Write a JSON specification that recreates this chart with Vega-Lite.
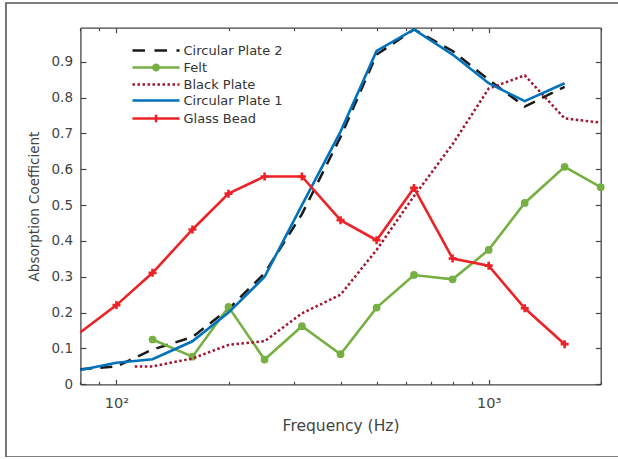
{
  "$schema": "https://vega.github.io/schema/vega-lite/v6.json",
  "width": 614,
  "height": 454,
  "autosize": {"type": "none"},
  "padding": {"left": 6, "top": 3, "right": 0, "bottom": 0},
  "background": "white",
  "config": {
    "view": {"stroke": "#555555", "strokeWidth": 1.6},
    "font": "DejaVu Sans",
    "axis": {
      "grid": false,
      "domainColor": "#454545",
      "domainWidth": 1.3,
      "tickColor": "#454545",
      "tickWidth": 1.2,
      "labelColor": "#444444",
      "titleColor": "#444444",
      "labelFont": "DejaVu Sans",
      "titleFont": "DejaVu Sans",
      "titleFontWeight": "normal",
      "labelFlush": false,
      "labelOverlap": false,
      "labelBound": false
    },
    "legend": {
      "orient": "none",
      "legendX": 142.5,
      "legendY": 40,
      "title": null,
      "padding": 0,
      "labelFont": "DejaVu Sans",
      "labelFontSize": 13,
      "labelColor": "#333333",
      "labelOffset": 20,
      "rowPadding": 1,
      "symbolSize": 144,
      "symbolStrokeWidth": 2.5
    }
  },
  "data": {
    "values": [
      {"s": "Circular Plate 2", "f": 80, "a": 0.042},
      {"s": "Circular Plate 2", "f": 100, "a": 0.05},
      {"s": "Circular Plate 2", "f": 125, "a": 0.097},
      {"s": "Circular Plate 2", "f": 160, "a": 0.132},
      {"s": "Circular Plate 2", "f": 200, "a": 0.21},
      {"s": "Circular Plate 2", "f": 250, "a": 0.31},
      {"s": "Circular Plate 2", "f": 315, "a": 0.475},
      {"s": "Circular Plate 2", "f": 400, "a": 0.69},
      {"s": "Circular Plate 2", "f": 500, "a": 0.92},
      {"s": "Circular Plate 2", "f": 630, "a": 0.99},
      {"s": "Circular Plate 2", "f": 800, "a": 0.93},
      {"s": "Circular Plate 2", "f": 1000, "a": 0.85},
      {"s": "Circular Plate 2", "f": 1250, "a": 0.775},
      {"s": "Circular Plate 2", "f": 1600, "a": 0.83},

      {"s": "Felt", "f": 125, "a": 0.125},
      {"s": "Felt", "f": 160, "a": 0.077},
      {"s": "Felt", "f": 200, "a": 0.216},
      {"s": "Felt", "f": 250, "a": 0.069},
      {"s": "Felt", "f": 315, "a": 0.162},
      {"s": "Felt", "f": 400, "a": 0.084},
      {"s": "Felt", "f": 500, "a": 0.214},
      {"s": "Felt", "f": 630, "a": 0.305},
      {"s": "Felt", "f": 800, "a": 0.293},
      {"s": "Felt", "f": 1000, "a": 0.375},
      {"s": "Felt", "f": 1250, "a": 0.506},
      {"s": "Felt", "f": 1600, "a": 0.607},
      {"s": "Felt", "f": 2000, "a": 0.55},

      {"s": "Black Plate", "f": 112, "a": 0.05},
      {"s": "Black Plate", "f": 125, "a": 0.05},
      {"s": "Black Plate", "f": 160, "a": 0.072},
      {"s": "Black Plate", "f": 200, "a": 0.11},
      {"s": "Black Plate", "f": 250, "a": 0.12},
      {"s": "Black Plate", "f": 315, "a": 0.198},
      {"s": "Black Plate", "f": 400, "a": 0.25},
      {"s": "Black Plate", "f": 500, "a": 0.375},
      {"s": "Black Plate", "f": 630, "a": 0.525},
      {"s": "Black Plate", "f": 800, "a": 0.67},
      {"s": "Black Plate", "f": 1000, "a": 0.825},
      {"s": "Black Plate", "f": 1250, "a": 0.862},
      {"s": "Black Plate", "f": 1600, "a": 0.742},
      {"s": "Black Plate", "f": 2000, "a": 0.73},

      {"s": "Circular Plate 1", "f": 80, "a": 0.04},
      {"s": "Circular Plate 1", "f": 100, "a": 0.06},
      {"s": "Circular Plate 1", "f": 125, "a": 0.07},
      {"s": "Circular Plate 1", "f": 160, "a": 0.12},
      {"s": "Circular Plate 1", "f": 200, "a": 0.2},
      {"s": "Circular Plate 1", "f": 250, "a": 0.3},
      {"s": "Circular Plate 1", "f": 315, "a": 0.5},
      {"s": "Circular Plate 1", "f": 400, "a": 0.705},
      {"s": "Circular Plate 1", "f": 500, "a": 0.93},
      {"s": "Circular Plate 1", "f": 630, "a": 0.99},
      {"s": "Circular Plate 1", "f": 800, "a": 0.92},
      {"s": "Circular Plate 1", "f": 1000, "a": 0.84},
      {"s": "Circular Plate 1", "f": 1250, "a": 0.79},
      {"s": "Circular Plate 1", "f": 1600, "a": 0.84},

      {"s": "Glass Bead", "f": 80, "a": 0.145},
      {"s": "Glass Bead", "f": 100, "a": 0.221},
      {"s": "Glass Bead", "f": 125, "a": 0.311},
      {"s": "Glass Bead", "f": 160, "a": 0.432},
      {"s": "Glass Bead", "f": 200, "a": 0.532},
      {"s": "Glass Bead", "f": 250, "a": 0.58},
      {"s": "Glass Bead", "f": 315, "a": 0.58},
      {"s": "Glass Bead", "f": 400, "a": 0.458},
      {"s": "Glass Bead", "f": 500, "a": 0.402},
      {"s": "Glass Bead", "f": 630, "a": 0.548},
      {"s": "Glass Bead", "f": 800, "a": 0.351},
      {"s": "Glass Bead", "f": 1000, "a": 0.331},
      {"s": "Glass Bead", "f": 1250, "a": 0.212},
      {"s": "Glass Bead", "f": 1600, "a": 0.112}
    ]
  },
  "encoding": {
    "x": {
      "field": "f",
      "type": "quantitative",
      "scale": {"type": "log", "domain": [80, 2000], "range": [74.4, 594.7], "nice": false},
      "axis": null
    },
    "y": {
      "field": "a",
      "type": "quantitative",
      "scale": {"domain": [0, 0.995], "range": [381.3, 24.7], "nice": false, "zero": false},
      "axis": null
    }
  },
  "layer": [
    {
      "transform": [{"filter": "datum.s == 'Circular Plate 2'"}],
      "mark": {"type": "line", "stroke": "#1a1a1a", "strokeWidth": 2.5, "strokeDash": [12, 8]},
      "encoding": {
        "x": {
          "field": "f",
          "type": "quantitative",
          "scale": {"type": "log", "domain": [80, 2000], "range": [74.4, 594.7], "nice": false},
          "axis": {
            "orient": "bottom",
            "offset": -72.7,
            "values": [80, 90, 100, 200, 300, 400, 500, 600, 700, 800, 900, 1000, 2000],
            "labelExpr": "datum.value == 100 ? '10²' : datum.value == 1000 ? '10³' : ''",
            "tickSize": {"condition": {"test": "datum.value == 100 || datum.value == 1000", "value": -5}, "value": -3},
            "labelPadding": 17,
            "labelFontSize": 14.5,
            "title": "Frequency (Hz)",
            "titleFontSize": 15.5,
            "titlePadding": 6.5
          }
        },
        "y": {
          "field": "a",
          "type": "quantitative",
          "scale": {"domain": [0, 0.995], "range": [381.3, 24.7], "nice": false, "zero": false},
          "axis": {
            "orient": "left",
            "offset": -74.4,
            "values": [0, 0.1, 0.2, 0.3, 0.4, 0.5, 0.6, 0.7, 0.8, 0.9],
            "format": ".1~f",
            "tickSize": -5.5,
            "labelPadding": 13.4,
            "labelFontSize": 13.5,
            "title": "Absorption Coefficient",
            "titleFontSize": 13.5,
            "titlePadding": 10
          }
        }
      }
    },
    {
      "transform": [{"filter": "datum.s == 'Felt'"}],
      "mark": {"type": "line", "stroke": "#76B043", "strokeWidth": 2.6}
    },
    {
      "transform": [{"filter": "datum.s == 'Felt'"}],
      "mark": {"type": "point", "shape": "circle", "filled": true, "size": 60, "color": "#76B043", "opacity": 1}
    },
    {
      "transform": [{"filter": "datum.s == 'Black Plate'"}],
      "mark": {"type": "line", "stroke": "#A2142F", "strokeWidth": 2.5, "strokeDash": [2.5, 2.5]}
    },
    {
      "transform": [{"filter": "datum.s == 'Circular Plate 1'"}],
      "mark": {"type": "line", "stroke": "#0072BD", "strokeWidth": 2.6}
    },
    {
      "transform": [{"filter": "datum.s == 'Glass Bead'"}],
      "mark": {"type": "line", "stroke": "#EC2227", "strokeWidth": 2.6}
    },
    {
      "transform": [{"filter": "datum.s == 'Glass Bead' && datum.f >= 100"}],
      "mark": {"type": "point", "shape": "M-1,0H1M0,-1V1", "filled": false, "size": 64, "strokeWidth": 2.6, "color": "#EC2227", "opacity": 1}
    },
    {
      "transform": [{"filter": "false"}],
      "mark": {"type": "point", "filled": false, "size": 144, "strokeWidth": 2.5, "opacity": 1},
      "encoding": {
        "color": {
          "field": "s",
          "type": "nominal",
          "scale": {
            "domain": ["Circular Plate 2", "Felt", "Black Plate", "Circular Plate 1", "Glass Bead"],
            "range": ["#1a1a1a", "#76B043", "#A2142F", "#0072BD", "#EC2227"]
          }
        },
        "shape": {
          "field": "s",
          "type": "nominal",
          "scale": {
            "domain": ["Circular Plate 2", "Felt", "Black Plate", "Circular Plate 1", "Glass Bead"],
            "range": [
              "M-3.92,0H3.92",
              "M-3.92,0H3.92M-0.45,0A0.45,0.45 0 1,0 0.45,0A0.45,0.45 0 1,0 -0.45,0ZM-0.2,0A0.2,0.2 0 1,0 0.2,0A0.2,0.2 0 1,0 -0.2,0Z",
              "M-3.92,0H3.92",
              "M-3.92,0H3.92",
              "M-3.92,0H3.92M0,-0.64V0.64"
            ]
          }
        },
        "strokeDash": {
          "field": "s",
          "type": "nominal",
          "scale": {
            "domain": ["Circular Plate 2", "Felt", "Black Plate", "Circular Plate 1", "Glass Bead"],
            "range": [[12.5, 9.5], [1, 0], [2.5, 2.5], [1, 0], [1, 0]]
          }
        }
      }
    },
    {
      "transform": [{"filter": "false"}],
      "mark": {"type": "point", "opacity": 0},
      "encoding": {
        "x": {
          "field": "f",
          "type": "quantitative",
          "scale": {"type": "log", "domain": [80, 2000], "range": [74.4, 594.7], "nice": false},
          "axis": {
            "orient": "top",
            "offset": -24.7,
            "values": [80, 90, 100, 200, 300, 400, 500, 600, 700, 800, 900, 1000, 2000],
            "labels": false,
            "tickSize": {"condition": {"test": "datum.value == 100 || datum.value == 1000", "value": -5}, "value": -3},
            "title": null
          }
        },
        "y": {
          "field": "a",
          "type": "quantitative",
          "scale": {"domain": [0, 0.995], "range": [381.3, 24.7], "nice": false, "zero": false},
          "axis": {
            "orient": "right",
            "offset": -19.3,
            "values": [0, 0.1, 0.2, 0.3, 0.4, 0.5, 0.6, 0.7, 0.8, 0.9],
            "labels": false,
            "tickSize": -5.5,
            "title": null
          }
        }
      }
    }
  ],
  "resolve": {"axis": {"x": "independent", "y": "independent"}}
}
